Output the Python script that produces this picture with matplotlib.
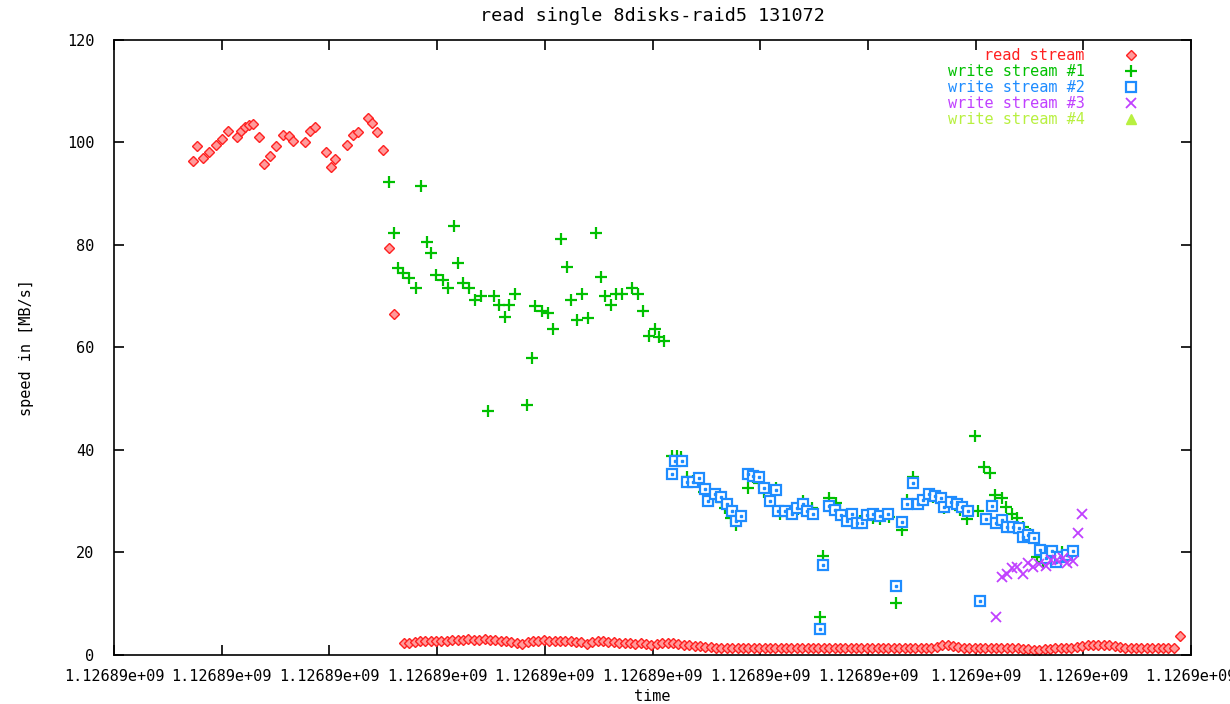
import matplotlib
matplotlib.use("Agg")
import matplotlib.pyplot as plt

# ----------------------------------------------------------------------
# data (time offsets in seconds from T0, speed in MB/s)
# ----------------------------------------------------------------------
T0 = 1126887000
X_TICKS = [0, 1000, 2000, 3000, 4000, 5000, 6000, 7000, 8000, 9000, 10000]
Y_TICKS = [0, 20, 40, 60, 80, 100, 120]

read_t_high = [736, 773, 824, 879, 947, 1003, 1061, 1145, 1179, 1219, 1256,
               1293, 1344, 1396, 1448, 1504, 1572, 1628, 1665, 1771, 1820,
               1866, 1966, 2015, 2052, 2161, 2216, 2268, 2356, 2393, 2445,
               2500, 2553, 2603]
read_v_high = [96.4, 99.4, 96.9, 98.2, 99.6, 100.7, 102.3, 101.1, 102.3, 103.0,
               103.4, 103.7, 101.1, 95.9, 97.4, 99.4, 101.5, 101.3, 100.2,
               100.0, 102.3, 103.0, 98.2, 95.3, 96.8, 99.6, 101.5, 102.0,
               104.7, 103.9, 102.0, 98.5, 79.4, 66.5]

read_t_low = [2690, 2740, 2790, 2840, 2890, 2940, 2990, 3040, 3090, 3140,
              3190, 3240, 3290, 3340, 3390, 3440, 3490, 3540, 3590, 3640,
              3690, 3740, 3790, 3840, 3890, 3940, 3990, 4040, 4090, 4140,
              4190, 4240, 4290, 4340, 4390, 4440, 4490, 4540, 4590, 4640,
              4690, 4740, 4790, 4840, 4890, 4940, 4990, 5040, 5090, 5140,
              5190, 5240, 5290, 5340, 5390, 5440, 5490, 5540, 5590, 5640,
              5690, 5740, 5790, 5840, 5890, 5940, 5990, 6040, 6090, 6140,
              6190, 6240, 6290, 6340, 6390, 6440, 6490, 6540, 6590, 6640,
              6690, 6740, 6790, 6840, 6890, 6940, 6990, 7040, 7090, 7140,
              7190, 7240, 7290, 7340, 7390, 7440, 7490, 7540, 7590, 7640,
              7690, 7740, 7790, 7840, 7890, 7940, 7990, 8040, 8090, 8140,
              8190, 8240, 8290, 8340, 8390, 8440, 8490, 8540, 8590, 8640,
              8690, 8740, 8790, 8840, 8890, 8940, 8990, 9040, 9090, 9140,
              9190, 9240, 9290, 9340, 9390, 9440, 9490, 9540, 9590, 9640,
              9690, 9740, 9790, 9840, 9900]
read_v_low = [2.3, 2.4, 2.5, 2.7, 2.7, 2.8, 2.7, 2.8, 2.8, 2.9,
              2.9, 3.0, 3.1, 3.0, 3.0, 3.1, 3.0, 2.9, 2.8, 2.7,
              2.6, 2.4, 2.1, 2.6, 2.8, 2.8, 2.9, 2.8, 2.7, 2.7,
              2.8, 2.7, 2.6, 2.5, 2.1, 2.6, 2.8, 2.7, 2.6, 2.6,
              2.4, 2.3, 2.3, 2.2, 2.3, 2.2, 1.9, 2.2, 2.3, 2.4,
              2.3, 2.2, 2.0, 1.9, 1.8, 1.8, 1.6, 1.5, 1.4, 1.4,
              1.4, 1.4, 1.4, 1.4, 1.4, 1.4, 1.4, 1.4, 1.4, 1.4,
              1.4, 1.4, 1.4, 1.4, 1.4, 1.4, 1.4, 1.4, 1.4, 1.4,
              1.4, 1.4, 1.4, 1.4, 1.4, 1.4, 1.4, 1.4, 1.4, 1.4,
              1.4, 1.4, 1.4, 1.4, 1.4, 1.4, 1.4, 1.4, 1.4, 1.6,
              1.9, 2.0, 1.8, 1.5, 1.4, 1.4, 1.4, 1.4, 1.4, 1.4,
              1.4, 1.4, 1.4, 1.3, 1.3, 1.2, 1.1, 1.0, 1.0, 1.1,
              1.2, 1.4, 1.4, 1.4, 1.4, 1.5, 1.8, 1.9, 2.0, 1.9,
              1.9, 1.9, 1.8, 1.5, 1.4, 1.4, 1.4, 1.4, 1.4, 1.4,
              1.4, 1.4, 1.4, 1.4, 3.7]

w1_t = [2553, 2603, 2640, 2686, 2742, 2801, 2850, 2903, 2941, 2990, 3052,
        3104, 3157, 3191, 3243, 3299, 3352, 3408, 3475, 3528, 3578, 3630,
        3670, 3723, 3832, 3884, 3909, 3971, 4027, 4076, 4150, 4206, 4240,
        4296, 4348, 4398, 4475, 4525, 4559, 4612, 4661, 4720, 4812, 4863,
        4915, 4970, 5023, 5058, 5110,
        5178, 5225, 5262, 5323, 5373, 5425, 5481, 5590, 5643, 5673, 5729,
        5775, 5812, 5889, 5930, 5989, 6038, 6091, 6144, 6184, 6246, 6348,
        6394, 6478, 6555, 6586, 6642, 6701, 6741, 6834, 6927, 7050, 7112,
        7196, 7261, 7319, 7366, 7421, 7484, 7607, 7707, 7855, 7923, 7994,
        8025, 8081, 8134, 8180, 8242, 8282, 8335, 8387, 8443, 8505, 8573,
        8629, 8737, 8799]
w1_v = [92.2, 82.3, 75.6, 74.5, 73.5, 71.6, 91.6, 80.5, 78.5, 74.1, 73.2,
        71.6, 83.7, 76.4, 72.6, 71.6, 69.3, 70.1, 47.7, 70.0, 68.3, 66.0,
        68.3, 70.4, 48.8, 57.9, 68.1, 67.1, 66.8, 63.6, 81.1, 75.8, 69.3,
        65.4, 70.4, 65.7, 82.3, 73.8, 70.1, 68.3, 70.4, 70.4, 71.6, 70.4,
        67.1, 62.2, 63.6, 62.1, 61.3,
        38.9, 38.9, 38.7, 34.8, 34.0, 33.8, 31.9, 30.9, 29.9, 28.6, 26.8,
        25.4, 26.3, 32.6, 34.8, 33.5, 31.9, 30.0, 32.5, 27.5, 27.5, 28.4,
        30.1, 28.6, 7.4, 19.3, 30.7, 29.7, 28.0, 27.5, 26.2, 26.7, 26.5,
        26.9, 10.2, 24.3, 30.2, 34.7, 30.2, 30.9, 28.6, 28.3, 26.5, 42.8,
        28.0, 36.7, 35.5, 31.2, 30.6, 28.8, 27.6, 26.7, 24.9, 23.6, 19.2,
        18.2, 18.5, 20.0]

w2_t = [5184, 5209, 5277, 5323, 5379, 5432, 5488, 5518, 5580, 5636, 5689,
        5735, 5773, 5822, 5889, 5936, 5989, 6038, 6091, 6144, 6168, 6230,
        6292, 6339, 6394, 6431, 6487, 6555, 6586, 6639, 6695, 6750, 6803,
        6850, 6896, 6948, 6989, 7050, 7112, 7189, 7261, 7319, 7366, 7421,
        7462, 7514, 7570, 7623, 7679, 7709, 7769, 7825, 7877, 7927, 8041,
        8097, 8155, 8189, 8248, 8289, 8345, 8406, 8437, 8489, 8545, 8598,
        8651, 8707, 8744, 8784, 8846, 8902]
w2_v = [35.3, 37.9, 37.9, 33.8, 33.8, 34.5, 32.3, 30.0, 31.5, 30.9, 29.5,
        28.0, 26.2, 27.1, 35.3, 35.0, 34.7, 32.6, 30.0, 32.1, 28.0, 28.0,
        27.6, 28.6, 29.5, 28.0, 27.6, 5.0, 17.6, 29.1, 28.3, 27.3, 26.2,
        27.6, 25.7, 25.7, 27.3, 27.6, 27.2, 27.6, 13.5, 25.9, 29.4, 33.5,
        29.4, 30.2, 31.5, 31.0, 30.6, 28.8, 29.9, 29.5, 28.8, 28.0, 10.5,
        26.5, 29.1, 25.7, 26.3, 25.0, 25.0, 24.7, 23.1, 23.4, 22.8, 20.5,
        19.0, 20.2, 18.2, 19.2, 19.5, 20.2]

w3_t = [8186, 8242, 8289, 8341, 8387, 8437, 8484, 8536, 8592, 8651, 8700,
        8753, 8809, 8851, 8902, 8953, 8985]
w3_v = [7.4, 15.3, 15.8, 16.9, 17.2, 15.8, 18.0, 17.2, 17.8, 17.4, 18.5,
        18.5, 18.9, 17.9, 18.4, 23.9, 27.6]

w4_t = []
w4_v = []

# ----------------------------------------------------------------------
# plot
# ----------------------------------------------------------------------
plt.rcParams["font.family"] = ["DejaVu Sans Mono"]
plt.rcParams["font.size"] = 11

fig = plt.figure(figsize=(12.3, 7.04), dpi=100)
ax = fig.add_axes([0.0927, 0.0696, 0.8756, 0.8736])

read_t = read_t_high + read_t_low
read_v = read_v_high + read_v_low

series = [
    ("read stream",     read_t, read_v, "D", "#ff2020", dict(ms=5, mfc="#ff9a9a", mew=1.0)),
    ("write stream #1", w1_t,   w1_v,   "+", "#00c000", dict(ms=8.5, mew=1.6)),
    ("write stream #2", w2_t,   w2_v,   "s", "#1e8cff", dict(ms=6.5, mfc="white", mew=1.6)),
    ("write stream #3", w3_t,   w3_v,   "x", "#c040ff", dict(ms=7, mew=1.3)),
    ("write stream #4", w4_t,   w4_v,   "^", "#b8f040", dict(ms=6.5)),
]

for label, ts, vs, marker, color, kw in series:
    xs = [T0 + t for t in ts]
    ax.plot(xs, vs, linestyle="none", marker=marker, color=color, mec=color, **kw)
    if marker == "s":
        ax.plot(xs, vs, linestyle="none", marker="s", ms=1.5, color=color)

ax.set_xlim(T0 + X_TICKS[0], T0 + X_TICKS[-1])
ax.set_ylim(Y_TICKS[0], Y_TICKS[-1])
ax.set_xticks([T0 + t for t in X_TICKS])
ax.set_xticklabels([f"{T0 + t:g}" for t in X_TICKS])
ax.set_yticks(Y_TICKS)
ax.tick_params(direction="in", top=True, right=True, length=7, width=1.2)
ax.tick_params(axis="x", pad=10)
ax.tick_params(axis="y", pad=14)
for sp in ax.spines.values():
    sp.set_linewidth(1.2)

ax.set_title("read single 8disks-raid5 131072", pad=14)
ax.set_xlabel("time", labelpad=4)
ax.set_ylabel("speed in [MB/s]", labelpad=24)

# key in the top right corner, text right aligned like gnuplot
for i, (label, ts, vs, marker, color, kw) in enumerate(series):
    yk = 0.975 - i * 0.026
    ax.text(0.901, yk, label, transform=ax.transAxes, ha="right", va="center",
            color=color)
    ax.plot([0.944], [yk], transform=ax.transAxes, linestyle="none",
            marker=marker, color=color, mec=color, clip_on=False, **kw)

fig.savefig("out.png", dpi=100)
